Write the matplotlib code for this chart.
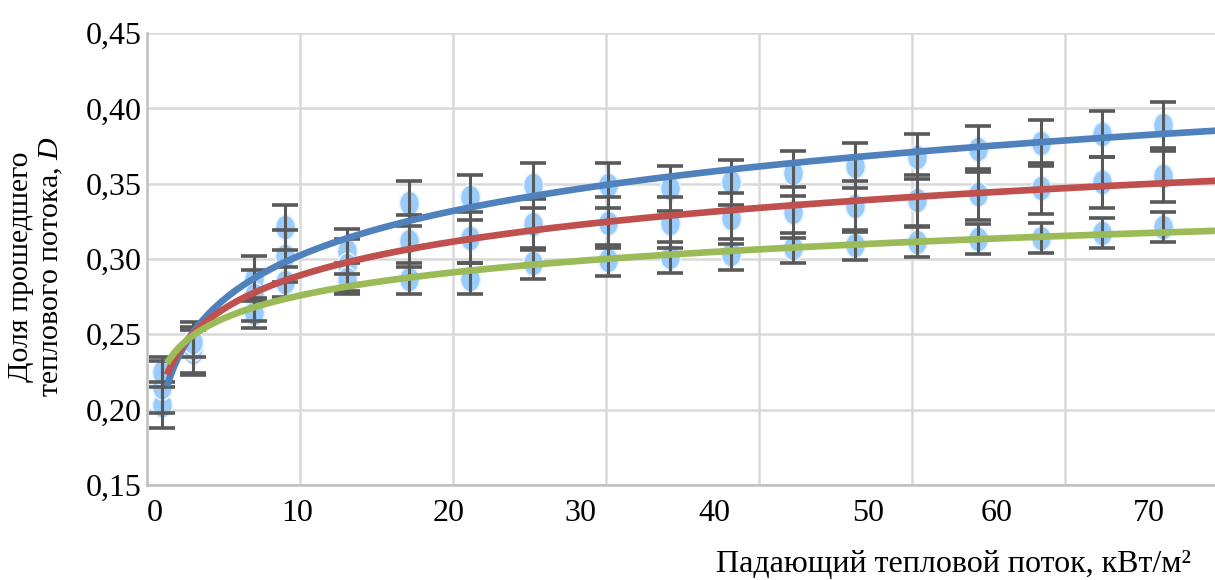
import numpy as np
import matplotlib
matplotlib.use("Agg")
import matplotlib.pyplot as plt
from matplotlib.markers import MarkerStyle
from matplotlib.transforms import Affine2D

plt.rcParams['font.family'] = ['Liberation Serif', 'DejaVu Serif']
plt.rcParams['mathtext.fontset'] = 'custom'
plt.rcParams['mathtext.rm'] = 'Liberation Serif'
plt.rcParams['mathtext.it'] = 'Liberation Serif:italic'

# incident heat flux, kW/m2
flux = [1.0, 3.0, 7.0, 9.0, 13.1, 17.1, 21.1, 25.2, 30.1, 34.2,
        38.2, 42.2, 46.3, 50.3, 54.3, 58.4, 62.4, 66.4]

# transmitted fraction D for three samples
d_blue = [0.203, 0.238, 0.287, 0.321, 0.305, 0.337, 0.341, 0.349, 0.349, 0.347,
          0.351, 0.357, 0.362, 0.368, 0.373, 0.377, 0.383, 0.389]
d_red = [0.215, 0.241, 0.276, 0.302, 0.296, 0.312, 0.314, 0.323, 0.324, 0.324,
         0.327, 0.331, 0.335, 0.339, 0.343, 0.347, 0.351, 0.355]
d_green = [0.225, 0.245, 0.264, 0.285, 0.287, 0.287, 0.287, 0.297, 0.299, 0.301,
           0.303, 0.307, 0.309, 0.311, 0.313, 0.314, 0.317, 0.321]

err_blue = 0.015
err_red = 0.017
err_green = 0.010

x_tick_labels = ['0', '10', '20', '30', '40', '50', '60', '70']
x_tick_pos = [0.5, 9.8, 19.7, 28.3, 37.1, 47.1, 55.5, 65.5]
y_ticks = [0.15, 0.20, 0.25, 0.30, 0.35, 0.40, 0.45]

fig = plt.figure(figsize=(12.15, 5.8), dpi=100)
ax = fig.add_axes([0.121, 0.164, 0.879, 0.779])

ax.set_xlim(0, 69.8)
ax.set_ylim(0.15, 0.45)

# grid every 10 units (minor ticks), labels where the original had them
ax.set_xticks(np.arange(10, 70, 10), minor=True)
ax.set_xticks(x_tick_pos)
ax.set_xticklabels(x_tick_labels)
ax.set_yticks(y_ticks)
ax.set_yticklabels([f"{v:.2f}".replace('.', ',') for v in y_ticks])
ax.grid(True, which='minor', axis='x', color='#d9d9d9', lw=1.8, zorder=0)
ax.grid(True, which='major', axis='y', color='#d9d9d9', lw=1.8, zorder=0)
ax.tick_params(axis='both', which='both', length=0, labelsize=23)
ax.tick_params(axis='x', pad=10)
ax.tick_params(axis='y', pad=4)

for s in ['top', 'right']:
    ax.spines[s].set_visible(False)
for s in ['left', 'bottom']:
    ax.spines[s].set_color('#bfbfbf')
    ax.spines[s].set_linewidth(1.8)

ell = MarkerStyle('o', transform=Affine2D().scale(0.8, 1.0))

series = [(d_blue, err_blue, '#4f81bd'),
          (d_red, err_red, '#c0504d'),
          (d_green, err_green, '#9bbb59')]

for d, e, col in series:
    ax.plot(flux, d, ls='none', marker=ell, ms=18, mfc='#99cbfb',
            mec='#eaf4ff', mew=1.2, zorder=3)
    ax.errorbar(flux, d, yerr=e, fmt='none', ecolor='#595959', elinewidth=2.2,
                capsize=9.5, capthick=2.6, zorder=4)

# logarithmic trend lines
xx = np.linspace(flux[0] + 0.3, 72, 300)
for d, e, col in series:
    a, b = np.polyfit(np.log(flux), d, 1)
    ax.plot(xx, a * np.log(xx) + b, color=col, lw=4.8, solid_capstyle='butt', zorder=5)

ax.set_ylabel('Доля прошедшего\nтеплового потока, $\\mathit{D}$', fontsize=21.5,
              linespacing=1.15)
ax.yaxis.set_label_coords(-0.077, 0.482)
fig.text(0.98, 0.014, 'Падающий тепловой поток, кВт/м²', fontsize=23,
         ha='right', va='baseline')

fig.savefig('out.png', dpi=100)
